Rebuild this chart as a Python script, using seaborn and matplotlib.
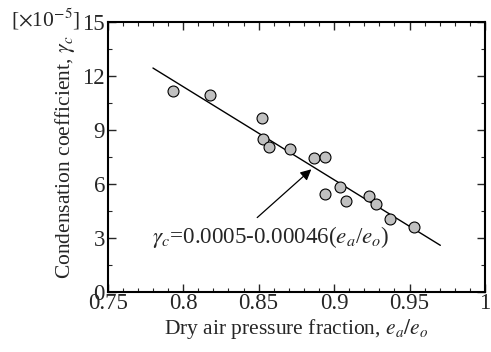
import pandas as pd
import matplotlib
matplotlib.use('Agg')
import matplotlib.pyplot as plt
from matplotlib.ticker import MultipleLocator
import seaborn as sns

# measured points (gamma_c in units of 1e-5)
pressure_fraction = [0.793, 0.818, 0.852, 0.853, 0.857, 0.871, 0.887, 0.894,
                     0.894, 0.904, 0.908, 0.923, 0.928, 0.937, 0.953]
cond_coeff = [11.17, 10.94, 9.65, 8.48, 8.04, 7.93, 7.45, 7.47,
              5.43, 5.82, 5.02, 5.30, 4.89, 4.06, 3.59]

# fitted line end points
fit_x = [0.78, 0.9704]
fit_y = [12.44, 2.58]

x_ticks = [0.75, 0.8, 0.85, 0.9, 0.95, 1.0]
x_ticklabels = ['0.75', '0.8', '0.85', '0.9', '0.95', '1']

points = pd.DataFrame({'frac': pressure_fraction, 'gamma': cond_coeff})
fit = pd.DataFrame({'frac': fit_x, 'gamma': fit_y})

sns.set_style('ticks')
plt.rcParams['font.family'] = ['Liberation Serif', 'DejaVu Serif']
plt.rcParams['mathtext.fontset'] = 'stix'

fig = plt.figure(figsize=(4.91, 3.52), dpi=100)
ax = fig.add_axes([0.2193, 0.1713, 0.7685, 0.7662])

sns.lineplot(data=fit, x='frac', y='gamma', color='black', linewidth=1.0, ax=ax)
sns.scatterplot(data=points, x='frac', y='gamma', s=62, color='#c0c0c0',
                edgecolor='black', linewidth=0.8, zorder=3, ax=ax)

ax.set_xlim(0.75, 1.0)
ax.set_ylim(0, 15)
ax.xaxis.set_minor_locator(MultipleLocator(0.01))
ax.yaxis.set_major_locator(MultipleLocator(3))
ax.yaxis.set_minor_locator(MultipleLocator(1.5))
ax.set_xticks(x_ticks)
ax.set_xticklabels(x_ticklabels)
ax.tick_params(which='both', direction='in', top=True, right=True, labelsize=16.5)
ax.tick_params(axis='x', pad=1)
ax.tick_params(axis='y', pad=2)
ax.tick_params(which='major', length=6, width=1)
ax.tick_params(which='minor', length=3, width=0.8)
for sp in ax.spines.values():
    sp.set_linewidth(1.5)
    sp.set_color('black')

ax.set_xlabel('Dry air pressure fraction, $e_a/e_o$', fontsize=15.5, labelpad=2)
ax.set_ylabel('Condensation coefficient, $\\gamma_c$', fontsize=15.5, labelpad=4)
ax.text(-0.072, 1.012, '[$\\times$10$^{-5}$]', transform=ax.transAxes, ha='right',
        va='center', fontsize=15.5)

ax.annotate('', xy=(0.8863, 6.91), xytext=(0.8477, 4.02),
            arrowprops=dict(arrowstyle='-|>', color='black', lw=0.9,
                            mutation_scale=16))
ax.text(0.7794, 3.05, '$\\gamma_c$=0.0005-0.00046($e_a$/$e_o$)', ha='left',
        va='center', fontsize=16.6)

fig.savefig('out.png', dpi=100)
